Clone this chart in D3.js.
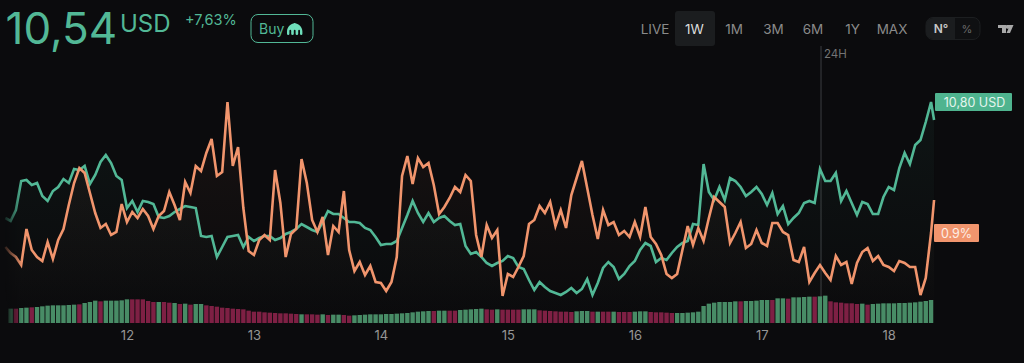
<!DOCTYPE html>
<html lang="en">
<head>
<meta charset="UTF-8">
<script src="https://cdn.jsdelivr.net/npm/d3@7"></script>
<style>
    html, body { margin: 0; padding: 0; background: #0b0b0d; overflow: hidden; }
    text { font-family: Inter, "Noto Sans", sans-serif; }
</style>
</head>
<body>
<div id="fig"></div>
<script>
    const width = 1024, height = 363;

    // hourly closes, USD
    const price = [
        9.63,9.60,9.71,10.00,10.01,9.96,9.98,9.85,9.80,9.90,9.94,10.02,9.98,10.12,10.11,10.15,9.97,10.06,10.19,10.26,10.18,10.05,10.01,9.73,
        9.80,9.69,9.80,9.79,9.77,9.64,9.63,9.65,9.69,9.72,9.75,9.74,9.73,9.45,9.44,9.45,9.24,9.34,9.44,9.45,9.46,9.34,9.44,9.40,
        9.43,9.45,9.45,9.41,9.43,9.47,9.49,9.52,9.57,9.54,9.51,9.49,9.59,9.70,9.67,9.67,9.63,9.59,9.59,9.58,9.53,9.51,9.44,9.36,
        9.37,9.37,9.40,9.53,9.66,9.80,9.68,9.59,9.68,9.59,9.63,9.65,9.60,9.56,9.57,9.35,9.27,9.29,9.24,9.18,9.15,9.18,9.20,9.25,
        9.23,9.14,9.12,9.01,8.91,8.99,8.94,8.90,8.88,8.86,8.89,8.93,8.88,8.92,9.02,8.86,8.98,9.13,9.19,9.14,9.02,9.07,9.15,9.20,
        9.31,9.38,9.35,9.19,9.23,9.21,9.28,9.34,9.38,9.40,9.57,9.56,10.17,9.89,9.81,9.94,9.81,10.03,10.00,9.94,9.85,9.89,9.94,
        9.87,9.76,9.88,9.67,9.75,9.57,9.63,9.68,9.78,9.80,9.78,10.12,10.00,10.00,10.08,9.80,9.90,9.78,9.66,9.79,9.77,9.67,9.67,
        9.84,9.94,9.91,10.13,10.28,10.17,10.36,10.41,10.59,10.79,10.61
    ];
    // hourly change, percent
    const change = [
        0.76,0.70,0.66,0.58,0.94,0.73,0.66,0.62,0.81,0.64,0.83,0.94,1.18,1.40,1.55,1.50,1.30,1.10,0.95,0.99,0.88,0.91,1.19,1.01,
        1.11,1.05,1.14,1.07,0.94,1.07,1.12,1.31,1.18,1.03,1.41,1.30,1.57,1.52,1.70,1.84,1.47,1.51,2.21,1.57,1.76,1.15,0.72,0.68,
        0.83,0.88,0.83,1.53,1.20,0.66,0.89,0.94,1.64,1.40,1.03,0.91,1.06,0.68,0.97,0.91,1.32,0.73,0.52,0.61,0.48,0.57,0.41,0.40,
        0.32,0.41,0.66,1.47,1.67,1.39,1.65,1.56,1.60,1.38,1.09,1.16,1.25,1.36,1.31,1.48,1.42,0.88,0.66,0.98,0.85,0.93,0.27,0.49,
        0.46,0.56,0.67,0.99,1.03,1.17,1.10,1.21,0.97,1.13,0.95,1.28,1.45,1.62,1.35,1.08,0.84,1.13,0.98,1.01,0.88,0.92,0.86,1.01,
        0.86,1.16,0.86,0.79,0.68,0.49,0.45,0.49,0.73,0.97,0.78,0.95,0.82,1.05,1.26,1.21,1.16,0.80,0.90,1.01,0.75,0.79,0.93,
        0.80,0.77,1.00,1.00,0.91,0.88,0.63,0.61,0.76,0.41,0.50,0.58,0.50,0.43,0.67,0.58,0.61,0.39,0.60,0.71,0.75,0.62,0.67,
        0.58,0.56,0.52,0.62,0.60,0.56,0.56,0.28,0.45,0.90,1.23
    ];
    const volume = [
        43,43,45,46,47,48,50,52,53,53,53,54,55,56,60,63,67,65,67,67,67,68,71,71,71,71,66,63,63,63,61,60,57,58,55,57,57,53,51,49,
        46,45,43,42,41,37,34,34,32,31,30,29,29,28,27,26,26,26,25,26,24,25,25,24,22,23,24,25,26,26,26,27,27,28,29,30,32,34,35,36,
        36,37,37,37,37,39,40,41,42,43,41,40,41,40,40,40,40,41,41,41,38,37,36,35,34,34,33,35,36,36,34,34,34,34,34,33,33,33,34,35,
        35,33,32,32,31,30,30,30,31,32,34,51,58,61,63,63,63,65,65,66,66,67,69,69,69,74,74,73,77,77,78,79,79,80,82,65,62,61,59,59,
        57,58,55,57,58,59,59,59,60,60,61,62,64,66,69
    ];
    // G = buy heavy hour, R = sell heavy hour
    const volumeSide = (
        "GRGGRGGGGG" + "GGGRGGGRGG" + "GGGRRRRRGR" + "RGRGRGGRRR" + "RRRRRRRRRR" +
        "RRRRRGRRRG" + "RGGRRGGGGG" + "GGGGGGGGGG" + "RGGRRGGGGG" + "RRGRRRRGGG" +
        "RRRRRRRGGG" + "RGRRGRRRGG" + "GRRRRRGGGG" + "GGGGGGGGRG" + "GGGGRGGRGG" +
        "GGRGGRRRRR" + "RGRGGGGGGG" + "GGGGG"
    ).split("");
    const ranges = ["LIVE", "1W", "1M", "3M", "6M", "1Y", "MAX"];

    const green = "#52b896", orange = "#f1956d";
    const barGreen = "#488c66", barRed = "#7e2044";

    const hour = 3600000;
    const start = Date.UTC(2024, 2, 11, 1);
    // the last point is the live price, a bit after the last full hour
    const timeAt = i => new Date(start + (i === 176 ? 175.57 : i) * hour);

    const x = d3.scaleUtc().domain([timeAt(0), timeAt(175)]).range([5.3, 931.05]);
    const yPrice = d3.scaleLinear().domain([11.81, 8.81]).range([0, 300]);
    const yChange = d3.scaleLinear().domain([3.23, 0.23]).range([0, 300]);
    const yVolume = d3.scaleLinear().domain([0, 75]).range([323, 298]);

    const svg = d3.select("#fig").append("svg")
        .attr("width", width).attr("height", height)
        .style("display", "block");
    svg.append("rect").attr("width", width).attr("height", height).attr("fill", "#0b0b0d");

    const defs = svg.append("defs");
    const fade = defs.append("linearGradient").attr("id", "fadeLeft")
        .attr("gradientUnits", "userSpaceOnUse")
        .attr("x1", 4).attr("x2", 22).attr("y1", 0).attr("y2", 0);
    fade.append("stop").attr("offset", 0).attr("stop-color", "#fff").attr("stop-opacity", 0.1);
    fade.append("stop").attr("offset", 1).attr("stop-color", "#fff").attr("stop-opacity", 1);
    defs.append("mask").attr("id", "fadeMask").attr("maskUnits", "userSpaceOnUse")
        .attr("x", 0).attr("y", 0).attr("width", width).attr("height", height)
        .append("rect").attr("width", width).attr("height", height).attr("fill", "url(#fadeLeft)");

    function tint(id, color, top) {
        const g = defs.append("linearGradient").attr("id", id)
            .attr("gradientUnits", "userSpaceOnUse")
            .attr("x1", 0).attr("x2", 0).attr("y1", top).attr("y2", 323);
        g.append("stop").attr("offset", 0).attr("stop-color", color).attr("stop-opacity", 0.06);
        g.append("stop").attr("offset", 1).attr("stop-color", color).attr("stop-opacity", 0);
    }
    tint("tintGreen", green, 100);
    tint("tintOrange", orange, 100);

    const plot = svg.append("g").attr("mask", "url(#fadeMask)");

    // 24H marker
    const marker = timeAt(154.2);
    plot.append("line")
        .attr("x1", x(marker)).attr("x2", x(marker))
        .attr("y1", 46).attr("y2", 323)
        .attr("stroke", "#2c2d30").attr("stroke-width", 1.5);

    const series = [
        { values: price, y: yPrice, color: green, fill: "url(#tintGreen)" },
        { values: change, y: yChange, color: orange, fill: "url(#tintOrange)" }
    ];
    series.forEach(s => {
        plot.append("path").datum(s.values)
            .attr("fill", s.fill)
            .attr("d", d3.area().x((d, i) => x(timeAt(i))).y0(323).y1(d => s.y(d)));
    });

    plot.selectAll("rect.vol").data(volume).join("rect")
        .attr("class", "vol")
        .attr("x", (d, i) => x(timeAt(i + 1)) - 2.2)
        .attr("width", 4.4)
        .attr("y", d => yVolume(d))
        .attr("height", d => 323 - yVolume(d))
        .attr("fill", (d, i) => volumeSide[i] === "G" ? barGreen : barRed);

    series.forEach(s => {
        plot.append("path").datum(s.values)
            .attr("fill", "none")
            .attr("stroke", s.color)
            .attr("stroke-width", 2.6)
            .attr("stroke-linejoin", "miter")
            .attr("d", d3.line().x((d, i) => x(timeAt(i))).y(d => s.y(d)));
    });

    const axis = svg.append("g")
        .attr("transform", "translate(0,331)")
        .call(d3.axisBottom(x).ticks(d3.utcDay.every(1)).tickSize(0).tickPadding(0).tickFormat(d3.utcFormat("%-d")));
    axis.select(".domain").remove();
    axis.selectAll("text")
        .attr("fill", "#969696").attr("font-size", 13)
        .style("font-family", "Inter, sans-serif");

    svg.append("text").attr("x", 824).attr("y", 58).text("24H")
        .attr("fill", "#747474").attr("font-size", 11.5);

    // price tags on the right
    svg.append("rect").attr("x", 935).attr("y", 93).attr("width", 77).attr("height", 18).attr("fill", "#4fb48f").attr("rx", 1);
    svg.append("text").attr("x", 974.5).attr("y", 106.5).attr("text-anchor", "middle")
        .attr("fill", "#e4f4ee").attr("font-size", 12.5).text("10,80 USD");
    svg.append("rect").attr("x", 934).attr("y", 224).attr("width", 45).attr("height", 18).attr("fill", orange).attr("rx", 1);
    svg.append("text").attr("x", 956.5).attr("y", 237.5).attr("text-anchor", "middle")
        .attr("fill", "#fdeee6").attr("font-size", 12.5).text("0.9%");

    // header
    svg.append("text").attr("x", 5.5).attr("y", 44).text("10,54")
        .attr("fill", green).attr("font-size", 44).attr("font-weight", 400);
    svg.append("text").attr("x", 120).attr("y", 32).text("USD")
        .attr("fill", green).attr("font-size", 24).attr("font-weight", 400);
    svg.append("text").attr("x", 185).attr("y", 25).text("+7,63%")
        .attr("fill", green).attr("font-size", 14.5).attr("font-weight", 400);

    svg.append("rect").attr("x", 251).attr("y", 14.5).attr("width", 62).attr("height", 28).attr("rx", 7)
        .attr("fill", "none").attr("stroke", green).attr("stroke-width", 1);
    svg.append("text").attr("x", 259).attr("y", 34).text("Buy")
        .attr("fill", green).attr("font-size", 14);
    // kraken mark
    svg.append("path")
        .attr("d", "M296 23c-5 0-9 4-9 8.5v2.2a1.1 1.1 0 0 0 2.4 0v-3a.9.9 0 0 1 1.8 0v3a1.2 1.2 0 0 0 2.6 0v-3a.9.9 0 0 1 1.8 0v3a1.2 1.2 0 0 0 2.6 0v-3a.9.9 0 0 1 1.8 0v3a1.1 1.1 0 0 0 2.4 0v-2.2c0-4.5-4-8.5-9-8.5z")
        .attr("fill", "#6fdfbb");

    // range buttons
    svg.append("rect").attr("x", 675).attr("y", 11).attr("width", 40).attr("height", 35).attr("rx", 3).attr("fill", "#1b1d1f");
    const rangeX = d3.scalePoint().domain(ranges).range([655, 892]);
    svg.selectAll("text.range").data(ranges).join("text")
        .attr("class", "range")
        .attr("x", d => rangeX(d)).attr("y", 34)
        .attr("text-anchor", "middle")
        .attr("font-size", 13.5)
        .attr("fill", d => d === "1W" ? "#dcdcdc" : "#8a8a8a")
        .text(d => d);

    // N / % toggle
    svg.append("rect").attr("x", 926).attr("y", 17.5).attr("width", 54).attr("height", 22).attr("rx", 7)
        .attr("fill", "#0f1012").attr("stroke", "#1c1e20");
    svg.append("path").attr("d", "M955 18v21h-22a7 7 0 0 1-7-7v-7a7 7 0 0 1 7-7z").attr("fill", "#1b1d1f");
    svg.append("text").attr("x", 941).attr("y", 33).attr("text-anchor", "middle")
        .attr("font-size", 12).attr("font-weight", 600).attr("fill", "#c8c8c8").text("N°");
    svg.append("text").attr("x", 967).attr("y", 33).attr("text-anchor", "middle")
        .attr("font-size", 11).attr("fill", "#6b6b6b").text("%");

    // tradingview mark
    svg.append("path")
        .attr("d", "M998 25h8v8h-4v-5h-4zM1006.5 25h7l-3.5 8h-3.5l2-4.5a1.8 1.8 0 0 1-2-3.5z")
        .attr("fill", "#a8a8a8");
</script>
</body>
</html>
